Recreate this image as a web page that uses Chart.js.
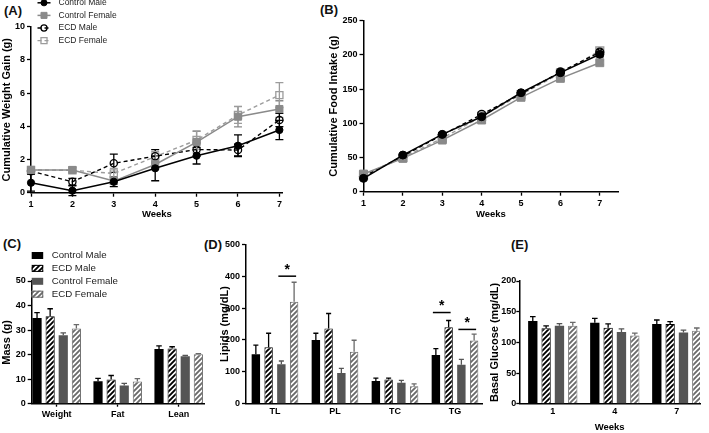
<!DOCTYPE html>
<html>
<head>
<meta charset="utf-8">
<script src="https://cdn.jsdelivr.net/npm/chart.js@4/dist/chart.umd.min.js"></script>
<style>
  body { margin: 0; background: #fff; width: 709px; height: 433px; position: relative; overflow: hidden;
         font-family: 'Liberation Sans', Arial, sans-serif; }
  canvas { position: absolute; }
  .tag { position: absolute; font-weight: bold; font-size: 13px; line-height: 13px; color: #111; }
</style>
</head>
<body>
<div class="tag" style="left:4px;top:4px">(A)</div>
<div class="tag" style="left:320px;top:3px">(B)</div>
<div class="tag" style="left:3px;top:237px">(C)</div>
<div class="tag" style="left:204px;top:238px">(D)</div>
<div class="tag" style="left:511px;top:238px">(E)</div>

<canvas id="chartA" width="350" height="220" style="left:0;top:0"></canvas>
<canvas id="chartB" width="382" height="220" style="left:327px;top:0"></canvas>
<canvas id="chartC" width="210" height="208" style="left:0;top:225px"></canvas>
<canvas id="chartD" width="272" height="208" style="left:218px;top:225px"></canvas>
<canvas id="chartE" width="221" height="208" style="left:488px;top:225px"></canvas>

<script>
// (A) cumulative weight gain, g
const weeks = [1, 2, 3, 4, 5, 6, 7];
const gainCtrlMale = [0.6, 0.12, 0.66, 1.47, 2.23, 2.83, 3.78];
const gainCtrlMaleErr = [0.5, 0.3, 0.3, 0.75, 0.5, 0.65, 0.58];
const gainCtrlFemale = [1.37, 1.37, 0.7, 1.7, 3.05, 4.58, 5.04];
const gainCtrlFemaleErr = [0.2, 0.15, 0.2, 0.3, 0.65, 0.62, 0.5];
const gainEcdMale = [1.3, 0.66, 1.77, 2.2, 2.6, 2.57, 4.38];
const gainEcdMaleErr = [0.2, 0.2, 0.55, 0.4, 0.4, 0.35, 0.4];
const gainEcdFemale = [1.37, 1.35, 1.16, 2.17, 3.17, 4.68, 5.88];
const gainEcdFemaleErr = [0.15, 0.15, 0.3, 0.3, 0.55, 0.5, 0.75];

// (B) cumulative food intake, g
const foodCtrlMale = [19.5, 53.6, 83.8, 109.6, 144.7, 174, 201];
const foodCtrlMaleErr = [2, 2, 2, 3, 3, 3, 4];
const foodCtrlFemale = [25.8, 48.7, 75.5, 104.8, 138, 165.7, 188.6];
const foodCtrlFemaleErr = [2, 2, 2, 3, 3, 3, 3];
const foodEcdMale = [22, 52, 83, 113, 143, 175, 204];
const foodEcdMaleErr = [2, 2, 3, 3, 3, 4, 4];
const foodEcdFemale = [24, 50, 78, 110, 142, 173, 206];
const foodEcdFemaleErr = [2, 2, 2, 3, 3, 3, 4];

// (C) body composition, g
const massGroups = ['Weight', 'Fat', 'Lean'];
const massCtrlMale = [34.9, 9.1, 22.3];
const massCtrlMaleErr = [2.2, 1.2, 1.3];
const massEcdMale = [35.6, 9.9, 22.5];
const massEcdMaleErr = [3.1, 1.6, 0.7];
const massCtrlFemale = [27.9, 7.4, 19.3];
const massCtrlFemaleErr = [1.0, 0.9, 0.4];
const massEcdFemale = [30.6, 9.0, 20.1];
const massEcdFemaleErr = [1.6, 1.2, 0.3];

// (D) plasma lipids, mg/dL
const lipidGroups = ['TL', 'PL', 'TC', 'TG'];
const lipidCtrlMale = [155, 200, 71, 153];
const lipidCtrlMaleErr = [29, 21, 9, 20];
const lipidEcdMale = [177, 236, 76, 240];
const lipidEcdMaleErr = [44, 47, 4, 21];
const lipidCtrlFemale = [124, 96, 66, 122];
const lipidCtrlFemaleErr = [10, 15, 7, 17];
const lipidEcdFemale = [320, 163, 55, 198];
const lipidEcdFemaleErr = [61, 36, 7, 20];
// significance markers: group, first bar, second bar, height (mg/dL)
const sigGroup = [0, 3, 3];
const sigFrom = [2, 0, 2];
const sigTo = [3, 1, 3];
const sigLevel = [400, 286, 233];

// (E) basal glucose, mg/dL
const glucoseWeeks = ['1', '4', '7'];
const glucCtrlMale = [135, 132, 130];
const glucCtrlMaleErr = [7, 7, 6.4];
const glucEcdMale = [123, 124, 130];
const glucEcdMaleErr = [4, 6, 3.7];
const glucCtrlFemale = [127, 117, 116];
const glucCtrlFemaleErr = [3.5, 5, 4];
const glucEcdFemale = [127, 111, 119];
const glucEcdFemaleErr = [5.5, 4, 4.4];

const FONT = "'Liberation Sans', Arial, sans-serif";
const tickFont = { family: FONT, size: 9, weight: 'bold' };
const titleFont = { family: FONT, size: 11, weight: 'bold' };

Chart.defaults.animation = false;
Chart.defaults.font.family = FONT;

// hatched fill for the ECD bars
function hatch(color) {
  const c = document.createElement('canvas');
  c.width = 5; c.height = 5;
  const g = c.getContext('2d');
  g.fillStyle = '#fff';
  g.fillRect(0, 0, 5, 5);
  g.strokeStyle = color;
  g.lineWidth = 1.9;
  g.beginPath();
  g.moveTo(-1, 6); g.lineTo(6, -1);
  g.moveTo(-1, 1); g.lineTo(1, -1);
  g.moveTo(4, 6); g.lineTo(6, 4);
  g.stroke();
  return g.createPattern(c, 'repeat');
}

function pts(xs, ys) {
  return ys.map((v, i) => ({ x: xs[i], y: v }));
}

function yAxis(min, max, step, title, width, tickLen, pad) {
  return {
    min: min, max: max,
    ticks: { stepSize: step, color: '#000', font: tickFont, padding: pad },
    grid: { drawOnChartArea: false, tickLength: tickLen, tickColor: '#000', tickWidth: 1.3 },
    border: { color: '#000', width: 1.5 },
    title: { display: true, text: title, color: '#000', font: titleFont, padding: 0 },
    afterFit: s => { s.width = width; }
  };
}

function xAxis(min, max, values, labels, height, title, tickLen) {
  return {
    type: 'linear', min: min, max: max, offset: false,
    afterBuildTicks: s => { s.ticks = values.map(v => ({ value: v })); },
    ticks: { color: '#000', font: tickFont, padding: 2, maxRotation: 0, autoSkip: false,
             callback: (v, i) => labels[i] },
    grid: { offset: false, drawOnChartArea: false, display: tickLen > 0, tickLength: tickLen, tickColor: '#000', tickWidth: 1.3 },
    border: { display: true, color: '#000', width: 1.5 },
    title: { display: !!title, text: title, color: '#000', font: { family: FONT, size: 9.5, weight: 'bold' }, padding: 0 },
    afterFit: s => { s.height = height; }
  };
}

function drawErrors(chart) {
  const ctx = chart.ctx, y = chart.scales.y;
  const both = chart.config.type === 'line';
  chart.data.datasets.forEach((ds, i) => {
    if (!ds.errors) return;
    const meta = chart.getDatasetMeta(i);
    ctx.save();
    ctx.setLineDash([]);
    ctx.strokeStyle = ds.borderColor;
    ctx.lineWidth = 1.3;
    meta.data.forEach((el, j) => {
      const v = ds.data[j].y, e = ds.errors[j];
      const top = y.getPixelForValue(v + e);
      const bot = both ? y.getPixelForValue(v - e) : el.y;
      const cap = both ? 4 : el.width * 0.3;
      ctx.beginPath();
      ctx.moveTo(el.x, bot); ctx.lineTo(el.x, top);
      ctx.moveTo(el.x - cap, top); ctx.lineTo(el.x + cap, top);
      if (both) { ctx.moveTo(el.x - cap, bot); ctx.lineTo(el.x + cap, bot); }
      ctx.stroke();
    });
    ctx.restore();
  });
}

const errorBars = {
  id: 'errorBars',
  beforeDatasetsDraw(chart) { if (chart.config.type === 'line') drawErrors(chart); },
  afterDatasetsDraw(chart) { if (chart.config.type !== 'line') drawErrors(chart); }
};

// legend of panel A (line + marker + label)
const lineLegend = {
  id: 'lineLegend',
  afterDraw(chart, args, opts) {
    const ctx = chart.ctx;
    chart.data.datasets.forEach((ds, i) => {
      const y = opts.top + i * opts.rows;
      ctx.save();
      ctx.strokeStyle = ds.borderColor;
      ctx.lineWidth = ds.borderWidth;
      ctx.setLineDash(ds.borderDash || []);
      ctx.beginPath();
      ctx.moveTo(opts.x, y); ctx.lineTo(opts.x + opts.len, y);
      ctx.stroke();
      ctx.setLineDash([]);
      ctx.fillStyle = ds.pointBackgroundColor;
      ctx.strokeStyle = ds.pointBorderColor;
      ctx.lineWidth = ds.pointBorderWidth;
      Chart.helpers.drawPoint(ctx, { pointStyle: ds.pointStyle, radius: ds.pointRadius * 0.85, rotation: 0,
        borderWidth: ds.pointBorderWidth }, opts.x + opts.len / 2, y);
      ctx.fillStyle = '#222';
      ctx.font = '8.5px ' + FONT;
      ctx.textBaseline = 'middle';
      ctx.fillText(ds.label, opts.textX, y);
      ctx.restore();
    });
  }
};

// legend of panel C (swatch + label)
const barLegend = {
  id: 'barLegend',
  afterDraw(chart, args, opts) {
    const ctx = chart.ctx;
    chart.data.datasets.forEach((ds, i) => {
      const y = opts.top + i * opts.rows;
      ctx.save();
      ctx.fillStyle = ds.backgroundColor;
      ctx.fillRect(opts.x, y - 3.5, 11.5, 7);
      if (ds.borderWidth) {
        ctx.strokeStyle = ds.borderColor;
        ctx.lineWidth = 1;
        ctx.strokeRect(opts.x + 0.5, y - 3, 10.5, 6);
      }
      ctx.fillStyle = '#222';
      ctx.font = '9.7px ' + FONT;
      ctx.textBaseline = 'middle';
      ctx.fillText(ds.label, opts.x + 20, y);
      ctx.restore();
    });
  }
};

// significance bars with stars (panel D)
const sigMarks = {
  id: 'sigMarks',
  afterDatasetsDraw(chart) {
    const ctx = chart.ctx, y = chart.scales.y;
    sigGroup.forEach((g, k) => {
      const a = chart.getDatasetMeta(sigFrom[k]).data[g];
      const b = chart.getDatasetMeta(sigTo[k]).data[g];
      const py = y.getPixelForValue(sigLevel[k]);
      const x0 = a.x - 3, x1 = b.x + 2;
      ctx.save();
      ctx.strokeStyle = '#000';
      ctx.lineWidth = 1.5;
      ctx.beginPath();
      ctx.moveTo(x0, py); ctx.lineTo(x1, py);
      ctx.stroke();
      ctx.fillStyle = '#000';
      ctx.font = 'bold 14px ' + FONT;
      ctx.textAlign = 'center';
      ctx.textBaseline = 'middle';
      ctx.fillText('*', (x0 + x1) / 2, py - 6);
      ctx.restore();
    });
  }
};

const black = '#000000';
const grayLine = '#8a8a8a';
const grayLine2 = '#9c9c9c';
const darkBar = '#555555';
const hatchGray = '#6a6a6a';

function lineSets(cm, cmE, cf, cfE, em, emE, ef, efE, r) {
  return [
    { label: 'Control Male', data: pts(weeks, cm), errors: cmE, borderColor: black, borderWidth: 1.5,
      pointStyle: 'circle', pointRadius: r, pointBackgroundColor: black, pointBorderColor: black, pointBorderWidth: 1 },
    { label: 'Control Female', data: pts(weeks, cf), errors: cfE, borderColor: grayLine, borderWidth: 1.5,
      pointStyle: 'rect', pointRadius: r * 1.4, pointBackgroundColor: grayLine, pointBorderColor: grayLine, pointBorderWidth: 1 },
    { label: 'ECD Male', data: pts(weeks, em), errors: emE, borderColor: black, borderWidth: 1.4, borderDash: [4, 3],
      pointStyle: 'circle', pointRadius: r, pointBackgroundColor: 'rgba(255,255,255,0)', pointBorderColor: black, pointBorderWidth: 1.3 },
    { label: 'ECD Female', data: pts(weeks, ef), errors: efE, borderColor: grayLine2, borderWidth: 1.4, borderDash: [4, 3],
      pointStyle: 'rect', pointRadius: r * 1.4, pointBackgroundColor: 'rgba(255,255,255,0)', pointBorderColor: grayLine2, pointBorderWidth: 1.3 }
  ].map(d => Object.assign(d, { clip: false, tension: 0, fill: false }));
}

function barSets(xs, cm, cmE, em, emE, cf, cfE, ef, efE) {
  return [
    { label: 'Control Male', data: pts(xs, cm), errors: cmE, backgroundColor: black, borderColor: black, borderWidth: 0 },
    { label: 'ECD Male', data: pts(xs, em), errors: emE, backgroundColor: hatch(black), borderColor: black, borderWidth: 1 },
    { label: 'Control Female', data: pts(xs, cf), errors: cfE, backgroundColor: darkBar, borderColor: darkBar, borderWidth: 0 },
    { label: 'ECD Female', data: pts(xs, ef), errors: efE, backgroundColor: hatch(hatchGray), borderColor: hatchGray, borderWidth: 1 }
  ];
}

const noLegend = { legend: { display: false }, tooltip: { enabled: false } };

// (A)
new Chart(document.getElementById('chartA'), {
  type: 'line',
  data: { datasets: lineSets(gainCtrlMale, gainCtrlMaleErr, gainCtrlFemale, gainCtrlFemaleErr,
                             gainEcdMale, gainEcdMaleErr, gainEcdFemale, gainEcdFemaleErr, 3.6) },
  options: {
    responsive: false,
    layout: { padding: { left: 0, top: 26.7, right: 67.3, bottom: 0 } },
    scales: {
      x: xAxis(1, 7.08, weeks, weeks.map(String), 27.3, 'Weeks', 4),
      y: yAxis(0, 10, 2, 'Cumulative Weight Gain (g)', 31, 4, 2)
    },
    plugins: Object.assign({ lineLegend: { x: 37.5, len: 13, textX: 58.5, top: 2.8, rows: 12.6 } }, noLegend)
  },
  plugins: [errorBars, lineLegend]
});

// (B)
new Chart(document.getElementById('chartB'), {
  type: 'line',
  data: { datasets: lineSets(foodCtrlMale, foodCtrlMaleErr, foodCtrlFemale, foodCtrlFemaleErr,
                             foodEcdMale, foodEcdMaleErr, foodEcdFemale, foodEcdFemaleErr, 4) },
  options: {
    responsive: false,
    layout: { padding: { left: 0, top: 20.7, right: 90.7, bottom: 0 } },
    scales: {
      x: xAxis(1, 7.47, weeks, weeks.map(String), 28.3, 'Weeks', 4),
      y: yAxis(0, 250, 50, 'Cumulative Food Intake (g)', 36.5, 4, 2)
    },
    plugins: noLegend
  },
  plugins: [errorBars]
});

const barOpts = { categoryPercentage: 0.86, barPercentage: 0.7 };

// (C)
new Chart(document.getElementById('chartC'), {
  type: 'bar',
  data: { datasets: barSets([0, 1, 2], massCtrlMale, massCtrlMaleErr, massEcdMale, massEcdMaleErr,
                            massCtrlFemale, massCtrlFemaleErr, massEcdFemale, massEcdFemaleErr) },
  options: {
    responsive: false,
    datasets: { bar: barOpts },
    layout: { padding: { left: 0, top: 56, right: 6, bottom: 0 } },
    scales: {
      x: xAxis(-0.41, 2.415, [0, 1, 2], massGroups, 29.3, '', 3),
      y: yAxis(0, 50, 10, 'Mass (g)', 31.7, 4, 2)
    },
    plugins: Object.assign({ barLegend: { x: 31.7, top: 30.5, rows: 12.9 } }, noLegend)
  },
  plugins: [errorBars, barLegend]
});

// (D)
new Chart(document.getElementById('chartD'), {
  type: 'bar',
  data: { datasets: barSets([0, 1, 2, 3], lipidCtrlMale, lipidCtrlMaleErr, lipidEcdMale, lipidEcdMaleErr,
                            lipidCtrlFemale, lipidCtrlFemaleErr, lipidEcdFemale, lipidEcdFemaleErr) },
  options: {
    responsive: false,
    datasets: { bar: { categoryPercentage: 0.85, barPercentage: 0.66 } },
    layout: { padding: { left: 0, top: 19.3, right: 8, bottom: 0 } },
    scales: {
      x: xAxis(-0.483, 3.45, [0, 1, 2, 3], lipidGroups, 29.3, '', 0),
      y: yAxis(0, 500, 100, 'Lipids (mg/dL)', 28, 4, 2)
    },
    plugins: noLegend
  },
  plugins: [errorBars, sigMarks]
});

// (E)
new Chart(document.getElementById('chartE'), {
  type: 'bar',
  data: { datasets: barSets([0, 1, 2], glucCtrlMale, glucCtrlMaleErr, glucEcdMale, glucEcdMaleErr,
                            glucCtrlFemale, glucCtrlFemaleErr, glucEcdFemale, glucEcdFemaleErr) },
  options: {
    responsive: false,
    datasets: { bar: barOpts },
    layout: { padding: { left: 0, top: 56, right: 9, bottom: 0 } },
    scales: {
      x: xAxis(-0.54, 2.374, [0, 1, 2], glucoseWeeks, 29.3, 'Weeks', 0),
      y: yAxis(0, 200, 50, 'Basal Glucose (mg/dL)', 31.3, 3, 0)
    },
    plugins: noLegend
  },
  plugins: [errorBars]
});
</script>
</body>
</html>
